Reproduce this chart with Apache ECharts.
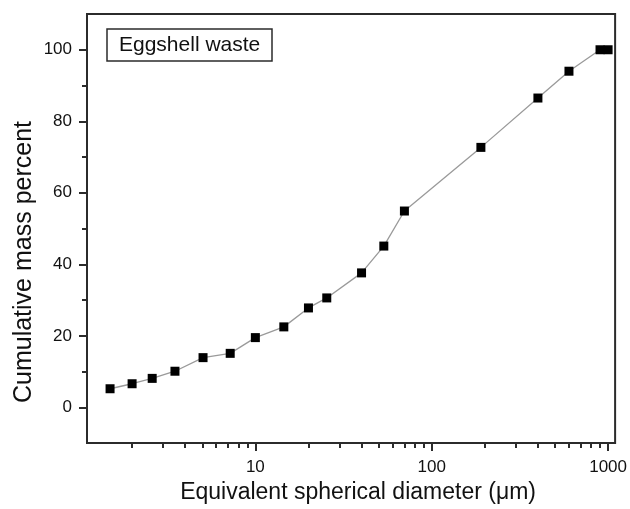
<!DOCTYPE html>
<html>
<head>
<meta charset="utf-8">
<script src="https://cdn.jsdelivr.net/npm/echarts@6/dist/echarts.min.js"></script>
<style>
  html, body { margin: 0; padding: 0; background: #fff; }
  #chart { width: 630px; height: 509px; }
</style>
</head>
<body>
<div id="chart"></div>
<script>
// particle size distribution
const diameters = [1.5, 2.0, 2.6, 3.5, 5.05, 7.2, 10, 14.5, 20, 25.4, 40, 53.5, 70, 190, 400, 600, 900, 1000]
const cumulative = [5.2, 6.6, 8.1, 10.1, 13.9, 15.1, 19.5, 22.5, 27.8, 30.6, 37.6, 45.1, 54.9, 72.7, 86.5, 94.0, 100, 100]

const xMajorTicks = [10, 100, 1000]
const xMinorTicks = [2, 3, 4, 5, 6, 7, 8, 9, 20, 30, 40, 50, 60, 70, 80, 90, 200, 300, 400, 500, 600, 700, 800, 900]
const yMajorTicks = [0, 20, 40, 60, 80, 100]
const yMinorTicks = [10, 30, 50, 70, 90]

const fontFamily = '"Liberation Sans", Arial, Helvetica, sans-serif'
const ink = '#2b2b2b'

const chart = echarts.init(document.getElementById('chart'), null, { renderer: 'canvas' })

const xRange = { min: 1.11, max: 1096 }
const yRange = { min: -10, max: 110 }

chart.setOption({
  backgroundColor: '#fff',
  animation: false,
  textStyle: { fontFamily: fontFamily },
  title: {
    text: 'Eggshell waste',
    left: 107,
    top: 29,
    padding: [5, 12, 5, 12],
    borderWidth: 1.5,
    borderColor: ink,
    textStyle: { fontFamily: fontFamily, fontSize: 21, fontWeight: 'normal', color: '#111', lineHeight: 22 }
  },
  grid: {
    left: 87, right: 14, top: 14, bottom: 63,
    show: true,
    borderColor: ink,
    borderWidth: 2
  },
  xAxis: [
    {
      type: 'log',
      logBase: 10,
      min: xRange.min,
      max: xRange.max,
      position: 'bottom',
      name: 'Equivalent spherical diameter (\u03bcm)',
      nameLocation: 'middle',
      nameGap: 36,
      nameTextStyle: { fontFamily: fontFamily, fontSize: 23, color: '#111', padding: [0, 0, 0, 14] },
      axisLine: { show: true, onZero: false, lineStyle: { color: ink, width: 2 } },
      axisTick: { show: true, inside: false, length: 8, customValues: xMajorTicks, lineStyle: { color: ink, width: 2 } },
      axisLabel: {
        customValues: xMajorTicks,
        margin: 16,
        fontSize: 17,
        color: '#111',
        formatter: v => String(Math.round(v))
      },
      splitLine: { show: false },
      minorTick: { show: false }
    },
    {
      type: 'log',
      logBase: 10,
      min: xRange.min,
      max: xRange.max,
      position: 'bottom',
      axisLine: { show: false, onZero: false },
      axisTick: { show: true, inside: false, length: 5, customValues: xMinorTicks, lineStyle: { color: ink, width: 2 } },
      axisLabel: { show: false },
      splitLine: { show: false }
    }
  ],
  yAxis: [
    {
      type: 'value',
      min: yRange.min,
      max: yRange.max,
      position: 'left',
      axisLine: { show: true, onZero: false, lineStyle: { color: ink, width: 2 } },
      axisTick: { show: true, inside: false, length: 8, customValues: yMajorTicks, lineStyle: { color: ink, width: 2 } },
      axisLabel: { customValues: yMajorTicks, margin: 15, fontSize: 17, color: '#111' },
      splitLine: { show: false }
    },
    {
      type: 'value',
      min: yRange.min,
      max: yRange.max,
      position: 'left',
      axisLine: { show: false, onZero: false },
      axisTick: { show: true, inside: false, length: 5, customValues: yMinorTicks, lineStyle: { color: ink, width: 2 } },
      axisLabel: { show: false },
      splitLine: { show: false }
    }
  ],
  graphic: [
    {
      type: 'text',
      x: 12,
      y: 262,
      rotation: Math.PI / 2,
      style: {
        text: 'Cumulative mass percent',
        fontFamily: fontFamily,
        fontSize: 25,
        fill: '#111',
        align: 'center',
        verticalAlign: 'top'
      }
    }
  ],
  series: [
    {
      type: 'line',
      xAxisIndex: 0,
      yAxisIndex: 0,
      data: diameters.map((d, i) => [d, cumulative[i]]),
      symbol: 'rect',
      symbolSize: 9,
      showSymbol: true,
      itemStyle: { color: '#000' },
      lineStyle: { color: '#9a9a9a', width: 1.3 },
      clip: false
    }
  ]
})
</script>
</body>
</html>
